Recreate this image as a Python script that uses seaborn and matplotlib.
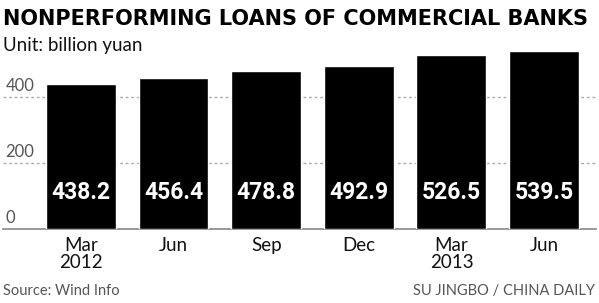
import matplotlib
matplotlib.use("Agg")
import matplotlib.pyplot as plt
import matplotlib.transforms as mtransforms
import seaborn as sns
import pandas as pd
from matplotlib import font_manager

periods = ["Mar\n2012", "Jun", "Sep", "Dec", "Mar\n2013", "Jun"]
values = [438.2, 456.4, 478.8, 492.9, 526.5, 539.5]
y_ticks = [0, 200, 400]
title = "NONPERFORMING LOANS OF COMMERCIAL BANKS"
subtitle = "Unit: billion yuan"
source = "Source: Wind Info"
credit = "SU JINGBO / CHINA DAILY"

sns.set_theme(style="white")
plt.rcParams["font.family"] = ["Lato", "DejaVu Sans"]

installed = {f.name for f in font_manager.fontManager.ttflist}
num_font = "Liberation Sans Narrow" if "Liberation Sans Narrow" in installed else "Roboto"

W, H = 599, 303
fig = plt.figure(figsize=(W / 100, H / 100), dpi=100)
fig.patch.set_facecolor("white")

ymax = 570
px_per_unit = 0.33
ax_h = ymax * px_per_unit
ax = fig.add_axes([3 / W, (H - 229) / H, 593 / W, ax_h / H])

df = pd.DataFrame({"period": [f"{i}" for i in range(len(values))], "value": values})
sns.barplot(data=df, x="period", y="value", color="black", saturation=1,
            width=0.755, ax=ax, zorder=3)
ax.set_xlim(-0.84, 5.56)
ax.set_ylim(0, ymax)
ax.set_xlabel("")
ax.set_ylabel("")
ax.set_yticks([])
ax.set_xticks(range(len(values)))
ax.set_xticklabels(periods, fontsize=13.5, color="#111111", linespacing=0.95,
                   fontfamily=["Lato", "DejaVu Sans"])
ax.tick_params(axis="x", length=0, pad=6)
for s in ["top", "right", "left"]:
    ax.spines[s].set_visible(False)
ax.spines["bottom"].set_color("#888888")
ax.spines["bottom"].set_linewidth(1.2)
ax.set_facecolor("white")

trans = mtransforms.blended_transform_factory(ax.transAxes, ax.transData)
for t in y_ticks:
    if t > 0:
        ax.axhline(t, color="#aaaaaa", lw=1, ls=(0, (2, 2)), zorder=1)
    ax.text(0.004, t + 8, f"{t}", transform=trans, fontsize=12, color="#555555",
            ha="left", va="bottom")

num_size = 18 if num_font == "Liberation Sans Narrow" else 16.5
for i, v in enumerate(values):
    ax.text(i, 112, f"{v:.1f}", ha="center", va="center", color="white",
            fontsize=num_size, fontweight="bold",
            fontfamily=[num_font, "DejaVu Sans"], zorder=4)

t_title = fig.text(3 / W, 1 - 19 / H, title, ha="left", va="center", fontsize=16,
                   fontweight="bold", color="black",
                   fontfamily=["DejaVu Sans"])
fig.canvas.draw()
r = fig.canvas.get_renderer()
bb = t_title.get_window_extent(r)
t_title.set_fontsize(16 * 588 / bb.width)

fig.text(3 / W, 1 - 45 / H, subtitle, ha="left", va="center", fontsize=13.5,
         color="#111111")
fig.text(3 / W, 1 - 291 / H, source, ha="left", va="center", fontsize=10.5,
         color="#555555")
fig.text(595 / W, 1 - 291 / H, credit, ha="right", va="center", fontsize=10.5,
         color="#555555")

fig.savefig("out.png", dpi=100, facecolor="white")
